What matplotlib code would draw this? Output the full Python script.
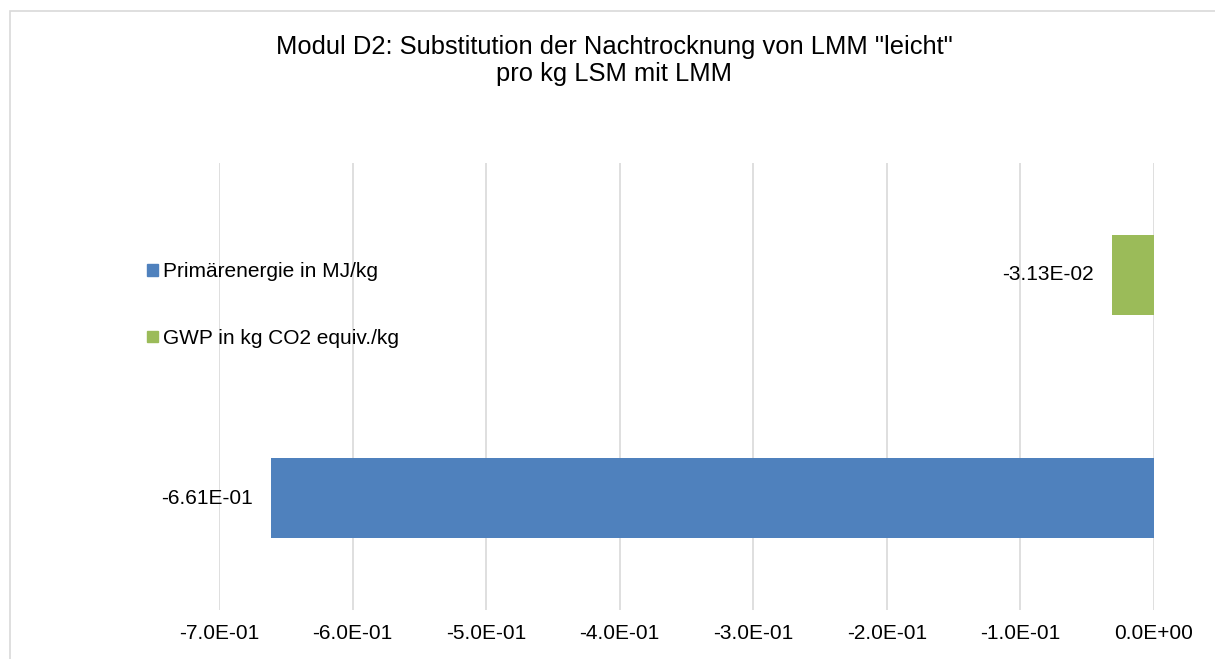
import matplotlib

matplotlib.use("Agg")
import matplotlib.pyplot as plt
from matplotlib.patches import Patch, Rectangle

# Werte aus dem Diagramm (Modul D2, pro kg LSM mit LMM)
series_names = ["Primärenergie in MJ/kg", "GWP in kg CO2 equiv./kg"]
series_values = [-6.61e-01, -3.13e-02]
series_colors = ["#4F81BD", "#9BBB59"]
x_ticks = [-0.7, -0.6, -0.5, -0.4, -0.3, -0.2, -0.1, 0.0]

plt.rcParams["font.family"] = ["Liberation Sans", "DejaVu Sans"]

W, H = 1215, 659
fig = plt.figure(figsize=(W / 100, H / 100), dpi=100)
ax = fig.add_axes([219 / W, 1 - 610 / H, (1154 - 219) / W, (610 - 163) / H])

# Rahmen des Diagrammbereichs (rechts und unten abgeschnitten)
fig.patches.append(Rectangle((10 / W, -0.1), 1.2, 1 - 11 / H + 0.1, transform=fig.transFigure,
                             fill=False, edgecolor="#D9D9D9", linewidth=1.2))

ypos = [0, 1]
for y, val, col, name in zip(ypos, series_values, series_colors, series_names):
    b = ax.barh(y, val, height=0.357, color=col, label=name, zorder=3)
    ax.bar_label(b, labels=[f"{val:.2E}"], padding=13, fontsize=15)

ax.set_xlim(-0.7, 0.0)
ax.set_ylim(-0.5, 1.5)
ax.set_xticks(x_ticks)
ax.set_xticklabels([f"{t:.1E}".replace("-0.0", "0.0") for t in x_ticks], fontsize=15)
ax.set_yticks([])
ax.tick_params(axis="x", length=0, pad=10)
ax.grid(axis="x", color="#D9D9D9", linewidth=1.2, zorder=0)
for s in ax.spines.values():
    s.set_visible(False)

handles = [Patch(color=c) for c in series_colors]
fig.legend(handles, series_names, loc="center left", bbox_to_anchor=(139 / W, 1 - 305 / H),
           frameon=False, fontsize=15, handlelength=0.5, handleheight=0.5, handletextpad=0.25,
           labelspacing=2.3, borderaxespad=0)

fig.text(614 / W, 1 - 60.5 / H, 'Modul D2: Substitution der Nachtrocknung von LMM "leicht"\npro kg LSM mit LMM',
         ha="center", va="center", fontsize=18.4, linespacing=1.2)

fig.savefig("out.png", dpi=100)
